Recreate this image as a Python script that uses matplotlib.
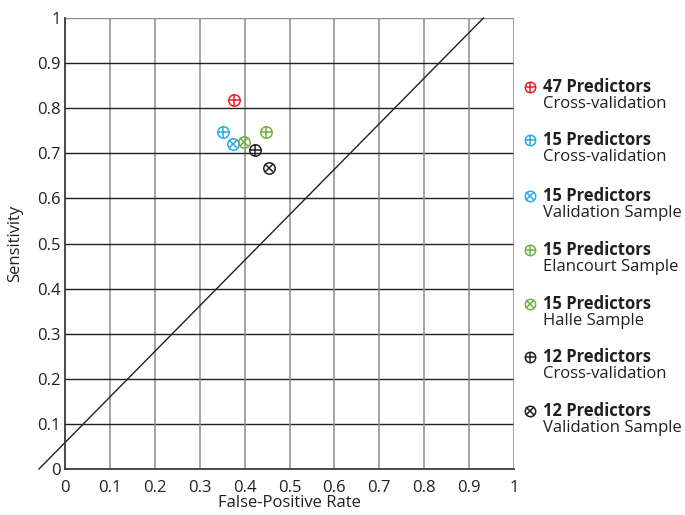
import numpy as np
import matplotlib
matplotlib.use('Agg')
import matplotlib.pyplot as plt

plt.rcParams['font.family'] = ['Open Sans', 'DejaVu Sans']

# false-positive rate / sensitivity for each model
fpr = [0.376, 0.353, 0.375, 0.447, 0.398, 0.424, 0.454]
sens = [0.818, 0.747, 0.721, 0.747, 0.724, 0.707, 0.668]
inner = ['+', '+', 'x', '+', 'x', '+', 'x']
colors = ['#ed1c24', '#29abe2', '#29abe2', '#6cb33f', '#6cb33f', '#231f20', '#231f20']
titles = ['47 Predictors', '15 Predictors', '15 Predictors', '15 Predictors',
          '15 Predictors', '12 Predictors', '12 Predictors']
subtitles = ['Cross-validation', 'Cross-validation', 'Validation Sample',
             'Elancourt Sample', 'Halle Sample', 'Cross-validation',
             'Validation Sample']

# reference diagonal
diag_x = [-0.058, 0.932]
diag_y = [0.0, 1.0]

ticks = np.round(np.arange(0, 1.01, 0.1), 1)
tick_labels = ['0', '0.1', '0.2', '0.3', '0.4', '0.5', '0.6', '0.7', '0.8', '0.9', '1']

W, H = 685, 515
fig = plt.figure(figsize=(W/100, H/100), dpi=100)
ax = fig.add_axes([65/W, 1-469/H, 449/W, 451/H])

text_c = '#231f20'
fs = 12

for t in ticks[1:]:
    ax.axvline(t, color='#8c8c8c', lw=1.1, zorder=1)
    ax.axhline(t, color='#231f20' if t < 1 else '#8c8c8c', lw=1.0, zorder=1)

ax.plot(diag_x, diag_y, color=text_c, lw=1.0, clip_on=False, zorder=2)


def marker(axis, x, y, c, m, size=8.2, **kw):
    axis.plot(x, y, 'o', ms=size, mfc='none', mec=c, mew=1.1, **kw)
    ms = size if m == '+' else size * 0.71
    axis.plot(x, y, m, ms=ms, mec=c, color=c, mew=1.1, **kw)


for x, y, m, c in zip(fpr, sens, inner, colors):
    marker(ax, x, y, c, m, zorder=3)

ax.set_xlim(0, 1)
ax.set_ylim(0, 1)
ax.set_xticks(ticks)
ax.set_yticks(ticks)
ax.set_xticklabels(tick_labels, fontsize=fs, color=text_c)
ax.set_yticklabels(tick_labels, fontsize=fs, color=text_c)
ax.tick_params(length=0)
ax.tick_params(axis='x', pad=8)
ax.tick_params(axis='y', pad=3)
for s in ['top', 'right']:
    ax.spines[s].set_visible(False)
for s in ['left', 'bottom']:
    ax.spines[s].set_color('#3a3a3a')
    ax.spines[s].set_linewidth(1.3)
ax.set_xlabel('False-Positive Rate', fontsize=fs, color=text_c, labelpad=-1)
ax.set_ylabel('Sensitivity', fontsize=fs, color=text_c, labelpad=10)

# hand-made legend on the right
rows = [87, 140, 196, 250, 304, 357, 411]
for i, py in enumerate(rows):
    fy = 1 - py/H
    marker(ax, 530/W, fy, colors[i], inner[i], size=7.5,
           transform=fig.transFigure, clip_on=False)
    fig.text(543/W, fy, titles[i], fontsize=fs, fontweight='bold', color=text_c, va='center')
    fig.text(543/W, 1 - (py + 17)/H, subtitles[i], fontsize=fs, color=text_c, va='center')

fig.savefig('out.png', dpi=100)
